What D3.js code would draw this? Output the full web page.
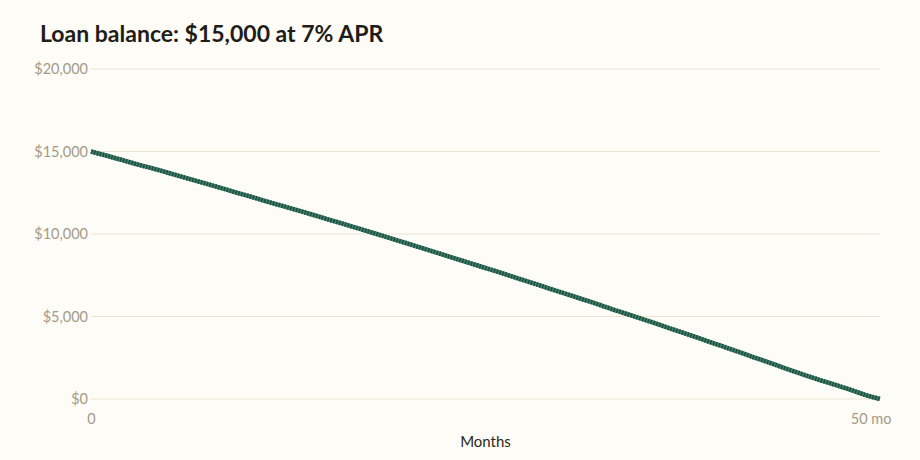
<!DOCTYPE html>
<meta charset="utf-8">
<script src="https://d3js.org/d3.v7.min.js"></script>
<style>
body { margin: 0; background: #fefcf6; }
svg { font-family: Lato, "Open Sans", sans-serif; }
.grid line { stroke: #ebe4d3; stroke-width: 1; }
.axis .domain, .axis line { display: none; }
.axis text { fill: #a39a88; font-size: 14.5px; font-family: Lato, sans-serif; }
</style>
<body>
<div id="canvas"></div>
<script>

// valores
var months = d3.range(0, 51);
var balance = [
  15000, 14740, 14480, 14200, 13950, 13680, 13400, 13130, 12860, 12570,
  12300, 12010, 11740, 11460, 11180, 10890, 10610, 10320, 10030, 9730,
  9440, 9140, 8840, 8540, 8240, 7940, 7640, 7330, 7020, 6710,
  6400, 6090, 5780, 5450, 5140, 4830, 4510, 4180, 3860, 3530,
  3200, 2870, 2530, 2200, 1860, 1530, 1210, 910, 600, 270,
  0
];
var yTicks = [0, 5000, 10000, 15000, 20000];
var xTicks = [0, 50];

var width = 920;
var height = 460;
var margin = {top: 69, right: 40, bottom: 61, left: 91};

var svg = d3.select('#canvas')
  .append("svg")
  .attr("width", width)
  .attr("height", height);

svg.append("rect")
  .attr("width", width).attr("height", height)
  .attr("fill", "#fefcf6");

var w = width - margin.left - margin.right;
var h = height - margin.top - margin.bottom;

var g = svg.append("g")
  .attr("transform", "translate(" + margin.left + "," + margin.top + ")");

// titulo
svg.append("text")
  .attr("x", 40).attr("y", 42)
  .style("font-size", "23px")
  .style("font-weight", "bold")
  .attr("fill", "#201c18")
  .text("Loan balance: $15,000 at 7% APR");

var x = d3.scaleLinear().domain([0, 50]).range([0, w]);
var y = d3.scaleLinear().domain([0, 20000]).range([h, 0]);

// linhas de grade
g.append("g")
  .attr("class", "grid")
  .selectAll("line")
  .data(yTicks)
  .enter().append("line")
  .attr("x1", 0).attr("x2", w)
  .attr("y1", function(d) { return y(d); })
  .attr("y2", function(d) { return y(d); });

// eixo Y
var yAxis = d3.axisLeft(y)
  .tickValues(yTicks)
  .tickSize(0)
  .tickPadding(3)
  .tickFormat(function(d) { return "$" + d3.format(",")(d); });
g.append("g").attr("class", "axis").call(yAxis);

// eixo X
var xAxis = d3.axisBottom(x)
  .tickValues(xTicks)
  .tickSize(0)
  .tickPadding(15)
  .tickFormat(function(d) { return d === 50 ? "50 mo" : d; });
var xg = g.append("g")
  .attr("class", "axis")
  .attr("transform", "translate(0," + h + ")")
  .call(xAxis);
xg.selectAll(".tick text")
  .filter(function(d) { return d === 50; })
  .attr("text-anchor", "end")
  .attr("dx", 11);

svg.append("text")
  .attr("x", margin.left + w / 2)
  .attr("y", 447)
  .attr("text-anchor", "middle")
  .style("font-size", "15px")
  .attr("fill", "#2b2722")
  .text("Months");

// linha do saldo
var pts = months.map(function(m, i) { return [m, balance[i]]; });
var line = d3.line()
  .x(function(d) { return x(d[0]); })
  .y(function(d) { return y(d[1]); })
  .curve(d3.curveMonotoneX);

g.append("path")
  .datum(pts)
  .attr("d", line)
  .attr("fill", "none")
  .attr("stroke", "#3f806c")
  .attr("stroke-width", 4.5);

g.append("path")
  .datum(pts)
  .attr("d", line)
  .attr("fill", "none")
  .attr("stroke", "#1f4d3f")
  .attr("stroke-width", 4.5)
  .attr("stroke-dasharray", "1.5 1.5");

</script>
</body>
